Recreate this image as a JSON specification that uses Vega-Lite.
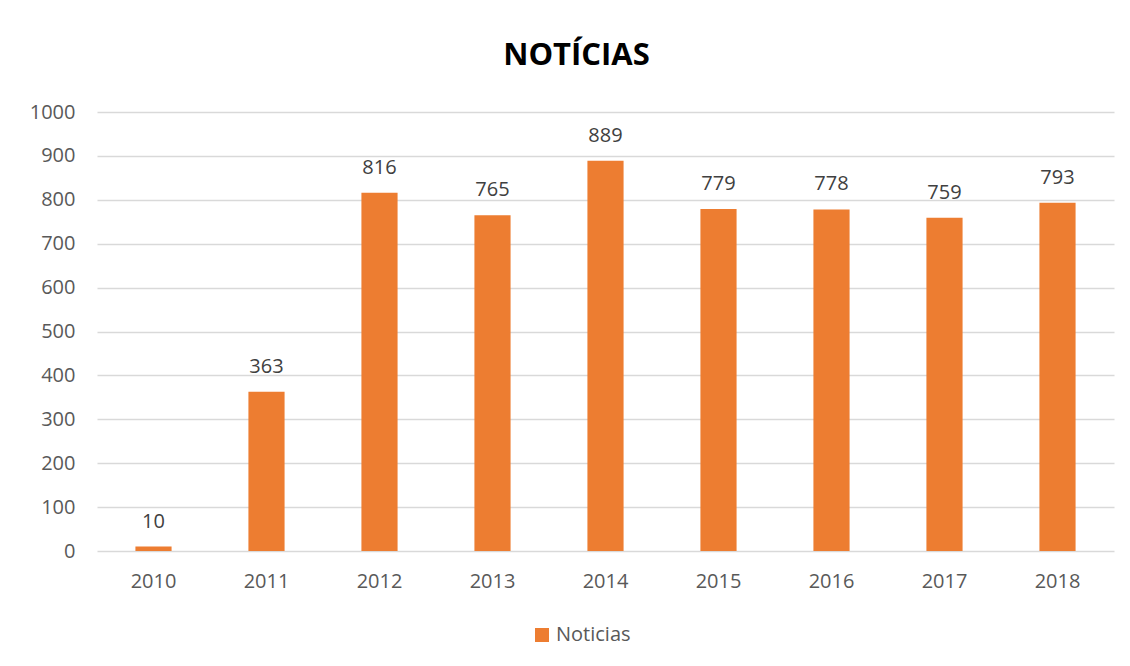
{
  "$schema": "https://vega.github.io/schema/vega-lite/v6.json",
  "width": 1017,
  "height": 439,
  "autosize": {"type": "none"},
  "padding": {"left": 97, "top": 112, "right": 16, "bottom": 115},
  "background": "white",
  "title": {
    "text": "NOTÍCIAS",
    "anchor": "middle",
    "fontSize": 31,
    "font": "Open Sans",
    "fontWeight": "bold",
    "color": "#000000",
    "offset": 30,
    "dx": -29
  },
  "config": {
    "view": {"stroke": null},
    "font": "Open Sans"
  },
  "data": {
    "values": [
      {"ano": "2010", "valor": 10, "serie": "Noticias"},
      {"ano": "2011", "valor": 363, "serie": "Noticias"},
      {"ano": "2012", "valor": 816, "serie": "Noticias"},
      {"ano": "2013", "valor": 765, "serie": "Noticias"},
      {"ano": "2014", "valor": 889, "serie": "Noticias"},
      {"ano": "2015", "valor": 779, "serie": "Noticias"},
      {"ano": "2016", "valor": 778, "serie": "Noticias"},
      {"ano": "2017", "valor": 759, "serie": "Noticias"},
      {"ano": "2018", "valor": 793, "serie": "Noticias"}
    ]
  },
  "encoding": {
    "x": {
      "field": "ano",
      "type": "nominal",
      "scale": {"paddingInner": 0.68, "paddingOuter": 0.34},
      "axis": {
        "title": null,
        "labelAngle": 0,
        "labelFontSize": 20,
        "labelColor": "#595959",
        "labelPadding": 20,
        "ticks": false,
        "domain": false,
        "grid": false
      }
    },
    "y": {
      "field": "valor",
      "type": "quantitative",
      "scale": {"domain": [0, 1000], "nice": false},
      "axis": {
        "title": null,
        "format": "d",
        "values": [0, 100, 200, 300, 400, 500, 600, 700, 800, 900, 1000],
        "labelFontSize": 20,
        "labelColor": "#595959",
        "labelPadding": 22,
        "ticks": false,
        "domain": false,
        "gridColor": "#d9d9d9",
        "gridWidth": 1.5
      }
    }
  },
  "layer": [
    {
      "mark": {"type": "bar", "color": "#ED7D31"},
      "encoding": {
        "color": {
          "field": "serie",
          "type": "nominal",
          "scale": {"range": ["#ED7D31"]},
          "legend": {
            "title": null,
            "orient": "none",
            "legendX": 435,
            "legendY": 513,
            "direction": "horizontal",
            "symbolType": "square",
            "symbolSize": 196,
            "symbolStrokeWidth": 0,
            "labelFontSize": 20,
            "labelColor": "#595959"
          }
        }
      }
    },
    {
      "mark": {"type": "text", "baseline": "bottom", "dy": -15, "fontSize": 20, "color": "#404040"},
      "encoding": {
        "text": {"field": "valor", "type": "quantitative"}
      }
    }
  ]
}
